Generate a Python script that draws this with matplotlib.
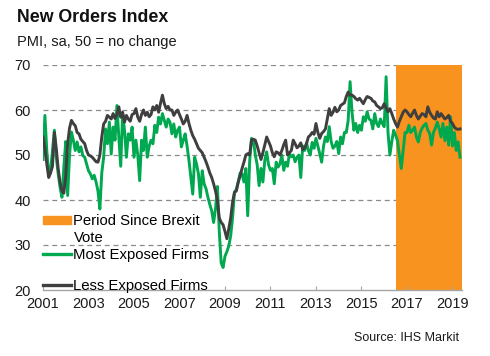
import numpy as np
import matplotlib
matplotlib.use('Agg')
import matplotlib.pyplot as plt
from matplotlib.patches import Patch
from matplotlib.lines import Line2D

plt.rcParams['font.family'] = ['Liberation Sans', 'DejaVu Sans']

# monthly readings, Jan 2001 - May 2019
less_exposed = [
    54, 51.5, 48, 45, 46, 47.5, 55, 51.5, 47, 44, 42, 41.5,          # 2001
    45.5, 52.5, 56, 57.7, 57, 56.5, 55, 54.7, 53.5, 53, 52.5, 51,    # 2002
    50, 49.8, 49.5, 49, 48.5, 48.4, 50, 54, 56.9, 57.5, 58.8, 58.4,  # 2003
    58, 59.2, 58.1, 59, 60.7, 58.4, 59.5, 57.3, 58.8, 58, 57.5, 59,  # 2004
    59.2, 60.3, 58.4, 57.5, 59, 60, 58.8, 59.5, 58.5, 59, 60.7, 60,  # 2005
    61, 59.5, 61.5, 63.3, 61.4, 60.3, 60.8, 60, 60, 58.8, 59.5, 60,  # 2006
    59, 58, 56.9, 57.5, 58.8, 57, 55.5, 54.3, 53.5, 52.5, 51.5, 51,  # 2007
    50.5, 49.5, 48.5, 47.3, 46, 45, 43.6, 42, 40, 36, 35, 34.5,      # 2008
    33, 31.4, 33.6, 36, 39.5, 41.7, 42, 44, 45.4, 47, 48.4, 50,      # 2009
    50.3, 50, 53.3, 53.5, 53.3, 52, 50.5, 49, 50.5, 52.3, 54, 53,    # 2010
    52, 50.5, 49.6, 50.7, 50.5, 50, 51, 52.3, 53.3, 50, 50.5, 51,    # 2011
    53.3, 52.5, 51.6, 52, 52.7, 51.2, 51.5, 52.5, 54, 54.4, 55, 54.6,  # 2012
    57, 55, 53.7, 54.8, 55.2, 55.8, 58, 60.3, 58.8, 59.5, 60.6, 59.6,  # 2013
    60, 61, 61.3, 61.6, 63, 64, 63.3, 63.3, 63, 62.5, 62.2, 62.6,    # 2014
    62, 61.4, 62.3, 63, 62.8, 62.6, 62, 61.8, 61, 60.7, 60.3, 60.5,  # 2015
    61.4, 60.5, 59.6, 60.3, 59.2, 58, 57, 56.2, 57.5, 58.5, 59.5, 60,  # 2016
    59.6, 59, 58.5, 59.3, 60, 58.8, 58, 58.6, 59.2, 59, 58.5, 60.7,  # 2017
    59.5, 58.8, 58.2, 58, 59.6, 58.5, 59.2, 58.6, 58, 58.3, 58.8, 57.5,  # 2018
    57, 56.2, 55.8, 55.7, 55.8,                                      # 2019
]
most_exposed = [
    49, 58.8, 51, 45.8, 46.5, 51, 55.5, 49.5, 45.8, 42.8, 40.6, 47.3,  # 2001
    53, 41, 50, 55.1, 53.3, 51, 52.9, 50.7, 51.8, 49.9, 49.5, 48,      # 2002
    46.5, 45.8, 44.7, 45.5, 44, 42, 38, 46, 49.5, 55.8, 52.5, 57.3,    # 2003
    50.2, 56.2, 53.3, 61, 54, 47.5, 59.2, 55.5, 49.5, 54.7, 53.3, 56.2,  # 2004
    49.5, 53.3, 50, 44.3, 53.3, 51, 56.2, 49.5, 52, 53.3, 52.5, 56.6,  # 2005
    55, 58.4, 56.9, 59.2, 57.7, 56.2, 58, 57.3, 54.7, 56.9, 54, 55.5,  # 2006
    56.2, 51.8, 53.3, 54.7, 52, 48.8, 45, 41.3, 49.5, 48, 45.8, 40.6,  # 2007
    46.5, 43.6, 42.5, 40.6, 39, 37.6, 35, 38, 43, 33, 26, 25,          # 2008
    27.5, 28.5, 29.8, 32, 36, 41.7, 42.4, 44, 46, 45.8, 44, 47,        # 2009
    36.5, 48.5, 53.7, 53.3, 50, 47.8, 43.2, 47, 44, 48.8, 50.7, 47.8,  # 2010
    46.6, 47, 43.6, 48.4, 47.3, 48, 50, 46.6, 48.4, 47.5, 50.3, 49.6,  # 2011
    50, 48.5, 49.5, 50, 45, 52, 51, 52.7, 51, 50, 52.8, 51.5,          # 2012
    53.7, 52, 50.3, 48.4, 52, 54, 53, 56.3, 53, 51.5, 52, 53,          # 2013
    50.3, 54, 52.5, 55, 55, 57.7, 66.3, 59.6, 55.5, 57, 55, 56.6,      # 2014
    55.5, 58.5, 57.5, 59.6, 58, 57.7, 55.8, 59.2, 57, 56.3, 58, 57,    # 2015
    56.3, 67.4, 55, 50, 53, 55.5, 54.4, 53.2, 50, 47, 51, 55,          # 2016
    55, 56.6, 55, 55.5, 56.2, 54, 52.9, 55, 56, 56.6, 57, 55.5,        # 2017
    54.8, 52.2, 55, 56, 57.3, 55.8, 54, 57, 53.2, 56.2, 52.2, 58.5,    # 2018
    52, 55, 51, 52.9, 49.5,                                            # 2019
]
brexit_period = [2016.5, 2019.42]
year_ticks = list(range(2001, 2020, 2))
y_ticks = [20, 30, 40, 50, 60, 70]

green = '#00a84f'
dark = '#3f3f3f'
orange = '#f7931e'

x = 2001 + np.arange(len(less_exposed)) / 12

fig = plt.figure(figsize=(4.9, 3.56), dpi=100)
ax = fig.add_axes([43 / 490, 1 - 290 / 356, 419 / 490, 225 / 356])

ax.axvspan(brexit_period[0], brexit_period[1], color=orange, zorder=1, lw=0)
ax.plot(x, most_exposed, color=green, lw=2.1, zorder=3)
ax.plot(x, less_exposed, color=dark, lw=2.1, zorder=4)

ax.set_xlim(2001, 2019.42)
ax.set_ylim(20, 70)
ax.set_xticks(year_ticks)
ax.set_xticklabels([str(t) for t in year_ticks])
ax.set_yticks(y_ticks)
for v in y_ticks[1:]:
    ax.axhline(v, color='#8c8c8c', lw=0.9, ls=(0, (4, 3)), zorder=0)

for s in ['left', 'right', 'top']:
    ax.spines[s].set_visible(False)
ax.spines['bottom'].set_color('#a6a6a6')
ax.spines['bottom'].set_linewidth(1.0)
ax.tick_params(axis='x', direction='in', length=3, color='#a6a6a6',
               labelsize=10.5, labelcolor='#1a1a1a', pad=5)
ax.tick_params(axis='y', length=0, labelsize=10.5, labelcolor='#1a1a1a', pad=9)

# legend: the long label wraps onto a second line ("Vote") in the original
leg1 = ax.legend(handles=[Patch(color=orange, label='Period Since Brexit'),
                          Line2D([], [], lw=0, label='Vote'),
                          Line2D([], [], color=green, lw=2.4, label='Most Exposed Firms')],
                 loc='upper left', bbox_to_anchor=(0.0, 0.338), frameon=False,
                 fontsize=10.7, handlelength=1.9, handleheight=0.45,
                 handletextpad=0.15, labelspacing=0.2, borderpad=0, borderaxespad=0)
ax.add_artist(leg1)
ax.legend(handles=[Line2D([], [], color=dark, lw=2.4, label='Less Exposed Firms')],
          loc='upper left', bbox_to_anchor=(0.0, 0.049), frameon=False,
          fontsize=10.7, handlelength=1.9, handletextpad=0.15,
          borderpad=0, borderaxespad=0)

fig.text(17 / 490, 1 - 18 / 356, 'New Orders Index', fontsize=12.8, fontweight='bold',
         va='center', ha='left', color='#111111')
fig.text(17 / 490, 1 - 42 / 356, 'PMI, sa, 50 = no change', fontsize=10.5,
         va='center', ha='left', color='#1a1a1a')
fig.text(459 / 490, 1 - 338 / 356, 'Source: IHS Markit', fontsize=9,
         va='center', ha='right', color='#1a1a1a')

fig.savefig('out.png', dpi=100)
